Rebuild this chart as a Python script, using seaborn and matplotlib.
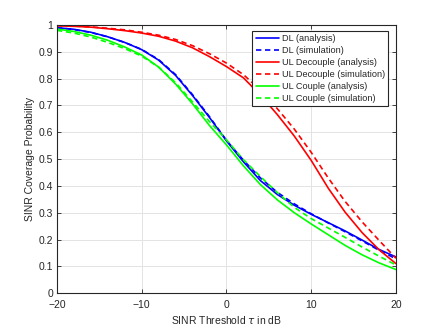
import numpy as np
import pandas as pd
import matplotlib
matplotlib.use("Agg")
import matplotlib.pyplot as plt
import seaborn as sns

# SINR threshold in dB
tau_db = [-20, -18, -16, -14, -12, -10, -8, -6, -4, -2, 0,
          2, 4, 6, 8, 10, 12, 14, 16, 18, 20]

# coverage probability
dl_analysis = [0.990, 0.984, 0.973, 0.956, 0.935, 0.908, 0.869, 0.812, 0.737, 0.655, 0.568,
               0.490, 0.420, 0.368, 0.328, 0.294, 0.263, 0.232, 0.198, 0.163, 0.135]
dl_simulation = [0.990, 0.983, 0.972, 0.956, 0.935, 0.909, 0.871, 0.815, 0.740, 0.658, 0.570,
                 0.496, 0.430, 0.376, 0.333, 0.296, 0.262, 0.229, 0.195, 0.160, 0.128]
ul_dec_analysis = [0.997, 0.995, 0.992, 0.986, 0.979, 0.970, 0.958, 0.940, 0.915, 0.882, 0.845,
                   0.803, 0.739, 0.666, 0.586, 0.495, 0.392, 0.302, 0.226, 0.162, 0.110]
ul_dec_simulation = [0.998, 0.996, 0.993, 0.988, 0.982, 0.973, 0.962, 0.946, 0.923, 0.893, 0.858,
                     0.815, 0.758, 0.688, 0.612, 0.525, 0.430, 0.342, 0.266, 0.197, 0.130]
ul_cpl_analysis = [0.985, 0.976, 0.962, 0.943, 0.918, 0.888, 0.843, 0.780, 0.706, 0.625, 0.553,
                   0.475, 0.405, 0.348, 0.300, 0.258, 0.218, 0.178, 0.143, 0.113, 0.088]
ul_cpl_simulation = [0.980, 0.970, 0.955, 0.935, 0.912, 0.884, 0.843, 0.785, 0.713, 0.640, 0.572,
                     0.498, 0.435, 0.375, 0.320, 0.278, 0.243, 0.208, 0.172, 0.138, 0.105]

series = [
    ("DL (analysis)", dl_analysis, "#0000ff", "-"),
    ("DL (simulation)", dl_simulation, "#0000ff", "--"),
    ("UL Decouple (analysis)", ul_dec_analysis, "#ff0000", "-"),
    ("UL Decouple (simulation)", ul_dec_simulation, "#ff0000", "--"),
    ("UL Couple (analysis)", ul_cpl_analysis, "#00ff00", "-"),
    ("UL Couple (simulation)", ul_cpl_simulation, "#00ff00", "--"),
]

sns.set_style("whitegrid")
plt.rcParams['font.family'] = ['Liberation Sans', 'DejaVu Sans']
plt.rcParams['mathtext.fontset'] = 'dejavusans'

fig = plt.figure(figsize=(4.38, 3.29), dpi=100)
ax = fig.add_axes([0.130, 0.109, 0.774, 0.815])

for label, vals, color, ls in series:
    df = pd.DataFrame({"tau": tau_db, "p": vals})
    sns.lineplot(data=df, x="tau", y="p", ax=ax, color=color, linestyle=ls,
                 linewidth=1.2, label=label)

for line in ax.get_lines():
    if line.get_linestyle() == "--":
        line.set_dashes((3.2, 2.2))

ax.set_xlim(-20, 20)
ax.set_ylim(0, 1)
ax.set_xticks([-20, -10, 0, 10, 20])
ax.set_yticks(np.arange(0, 1.01, 0.1))
ax.set_yticklabels(["0", "0.1", "0.2", "0.3", "0.4", "0.5", "0.6", "0.7", "0.8", "0.9", "1"])
ax.set_xlabel(r"SINR Threshold $\tau$ in dB", fontsize=7.5, color="#262626", labelpad=3)
ax.set_ylabel("SINR Coverage Probability", fontsize=7.5, color="#262626", labelpad=3)

ax.grid(True, color="#e3e3e3", linewidth=0.7)
ax.set_axisbelow(True)
for sp in ax.spines.values():
    sp.set_visible(True)
    sp.set_color("#262626")
    sp.set_linewidth(0.8)
ax.tick_params(direction="in", length=3, width=0.6, colors="#262626",
               labelsize=7.5, top=True, right=True, bottom=True, left=True, pad=2.5)
ax.tick_params(axis="x", pad=5)

leg = ax.legend(loc="upper right", bbox_to_anchor=(0.978, 0.977), fontsize=6.6,
                frameon=True, fancybox=False, framealpha=1, edgecolor="#262626",
                handlelength=2.6, handletextpad=0.3, labelspacing=0.32,
                borderpad=0.35, borderaxespad=0)
leg.get_frame().set_linewidth(0.8)

fig.savefig("out.png", dpi=100)
